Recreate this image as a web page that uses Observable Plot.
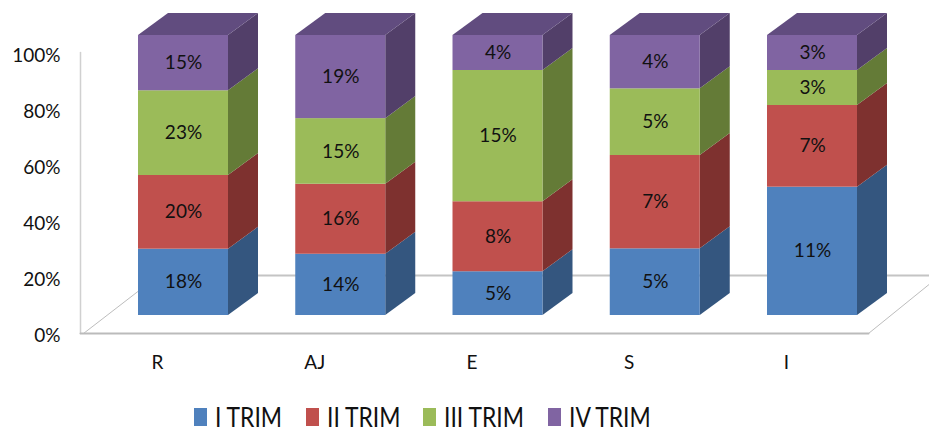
<!DOCTYPE html>
<html>
<head>
<meta charset="utf-8">
<script src="https://cdn.jsdelivr.net/npm/d3@7"></script>
<script src="https://cdn.jsdelivr.net/npm/@observablehq/plot@0.6"></script>
<style>
  body { margin: 0; background: #fff; font-family: Lato, "Open Sans", sans-serif; }
  #wrap { position: relative; width: 929px; height: 432px; }
  #legend { position: absolute; left: 0; top: 403px; width: 929px; height: 28px; font-size: 26px; color: #111; line-height: 28px; }
  .item { position: absolute; top: 0; height: 28px; display: flex; align-items: center; white-space: nowrap; }
  .sw { width: 13px; height: 18px; margin-right: 8px; flex: none; }
  .lbl { display: inline-block; transform: scaleX(0.88); transform-origin: left center; }
</style>
</head>
<body>
<div id="wrap"><div id="chart"></div><div id="legend"></div></div>
<script>
const categories = ["R", "AJ", "E", "S", "I"];
const series = ["I TRIM", "II TRIM", "III TRIM", "IV TRIM"];
const trim1 = [18, 14, 5, 5, 11];
const trim2 = [20, 16, 8, 7, 7];
const trim3 = [23, 15, 15, 5, 3];
const trim4 = [15, 19, 4, 4, 3];
const yTicks = [0, 0.2, 0.4, 0.6, 0.8, 1];

const front = ["#4F81BD", "#C0504D", "#9BBB59", "#8064A2"];
const side = ["#34567F", "#7E312F", "#647B37", "#523F69"];
const topCol = "#614C7F";

const values = [trim1, trim2, trim3, trim4];
const W = 0.5723;   // bar width in category units
const DX = 0.1908;  // depth (x)
const DY = 0.0786;  // depth (y)

const rows = [];
categories.forEach((c, i) => {
  const total = d3.sum(values, v => v[i]);
  let acc = 0;
  values.forEach((v, s) => {
    const y1 = acc / total;
    acc += v[i];
    const y2 = acc / total;
    rows.push({cat: c, i, s, series: series[s], value: v[i], y1, y2});
  });
});

const sidePts = rows.flatMap(d => [
  {k: d.cat + d.s, s: d.s, x: d.i + W / 2, y1: d.y1, y2: d.y2},
  {k: d.cat + d.s, s: d.s, x: d.i + W / 2 + DX, y1: d.y1 + DY, y2: d.y2 + DY}
]);
const topPts = categories.flatMap((c, i) => [
  {k: c, y: 1, x1: i - W / 2, x2: i + W / 2},
  {k: c, y: 1 + DY, x1: i - W / 2 + DX, x2: i + W / 2 + DX}
]);

// floor / wall frame (decoration, in scale units)
const px = p => (p - 183) / 157.25;
const py = p => (315 - p) / 280;
const frame = [
  {k: "wall", x: px(80), y: py(52)}, {k: "wall", x: px(80), y: py(333)},
  {k: "front", x: px(80), y: py(333)}, {k: "front", x: px(868), y: py(333)},
  {k: "back", x: px(140), y: py(275)}, {k: "back", x: px(929), y: py(275)},
  {k: "ldiag", x: px(83), y: py(333)}, {k: "ldiag", x: px(140), y: py(289)},
  {k: "rdiag", x: px(868), y: py(333)}, {k: "rdiag", x: px(931), y: py(282)}
];

const chart = Plot.plot({
  width: 929,
  height: 395,
  marginLeft: 64,
  marginRight: 0,
  marginTop: 0,
  marginBottom: 45,
  style: {fontFamily: "Lato, 'Open Sans', sans-serif", color: "#111", background: "#fff"},
  x: {type: "linear", domain: [0, 4], range: [183, 812], axis: null},
  y: {type: "linear", domain: [0, 1], range: [315, 35], axis: null},
  marks: [
    Plot.line(frame.filter(d => d.k === "wall"), {x: "x", y: "y", stroke: "#D0D0D0", strokeWidth: 1.5}),
    Plot.line(frame.filter(d => d.k === "back"), {x: "x", y: "y", stroke: "#C4C4C4", strokeWidth: 2}),
    Plot.line(frame.filter(d => d.k === "ldiag" || d.k === "rdiag"), {x: "x", y: "y", z: "k", stroke: "#BDBDBD", strokeWidth: 1}),
    Plot.line(frame.filter(d => d.k === "front"), {x: "x", y: "y", stroke: "#BBBBBB", strokeWidth: 2}),
    Plot.axisY(yTicks, {tickSize: 0, tickPadding: 4, dy: 20, fontSize: 19, tickFormat: d => Math.round(d * 100) + "%"}),
    Plot.axisX([0, 1, 2, 3, 4], {anchor: "bottom", tickSize: 0, tickPadding: 5, dx: -26, fontSize: 19, tickFormat: i => categories[i]}),
    Plot.areaY(sidePts, {x: "x", y1: "y1", y2: "y2", z: "k", fill: d => side[d.s]}),
    Plot.areaX(topPts, {y: "y", x1: "x1", x2: "x2", z: "k", fill: topCol}),
    Plot.rect(rows, {x1: d => d.i - W / 2, x2: d => d.i + W / 2, y1: "y1", y2: "y2", fill: d => front[d.s]}),
    Plot.text(rows, {x: "i", y: d => (d.y1 + d.y2) / 2, text: d => d.value + "%", fontSize: 19, fill: "#111"})
  ]
});
document.getElementById("chart").appendChild(chart);

const legendX = [194, 306, 423, 548];
const legend = document.getElementById("legend");
series.forEach((s, k) => {
  const it = document.createElement("div");
  it.className = "item";
  it.style.left = legendX[k] + "px";
  it.innerHTML = `<div class="sw" style="background:${front[k]}"></div><span class="lbl">${s}</span>`;
  legend.appendChild(it);
});
</script>
</body>
</html>
